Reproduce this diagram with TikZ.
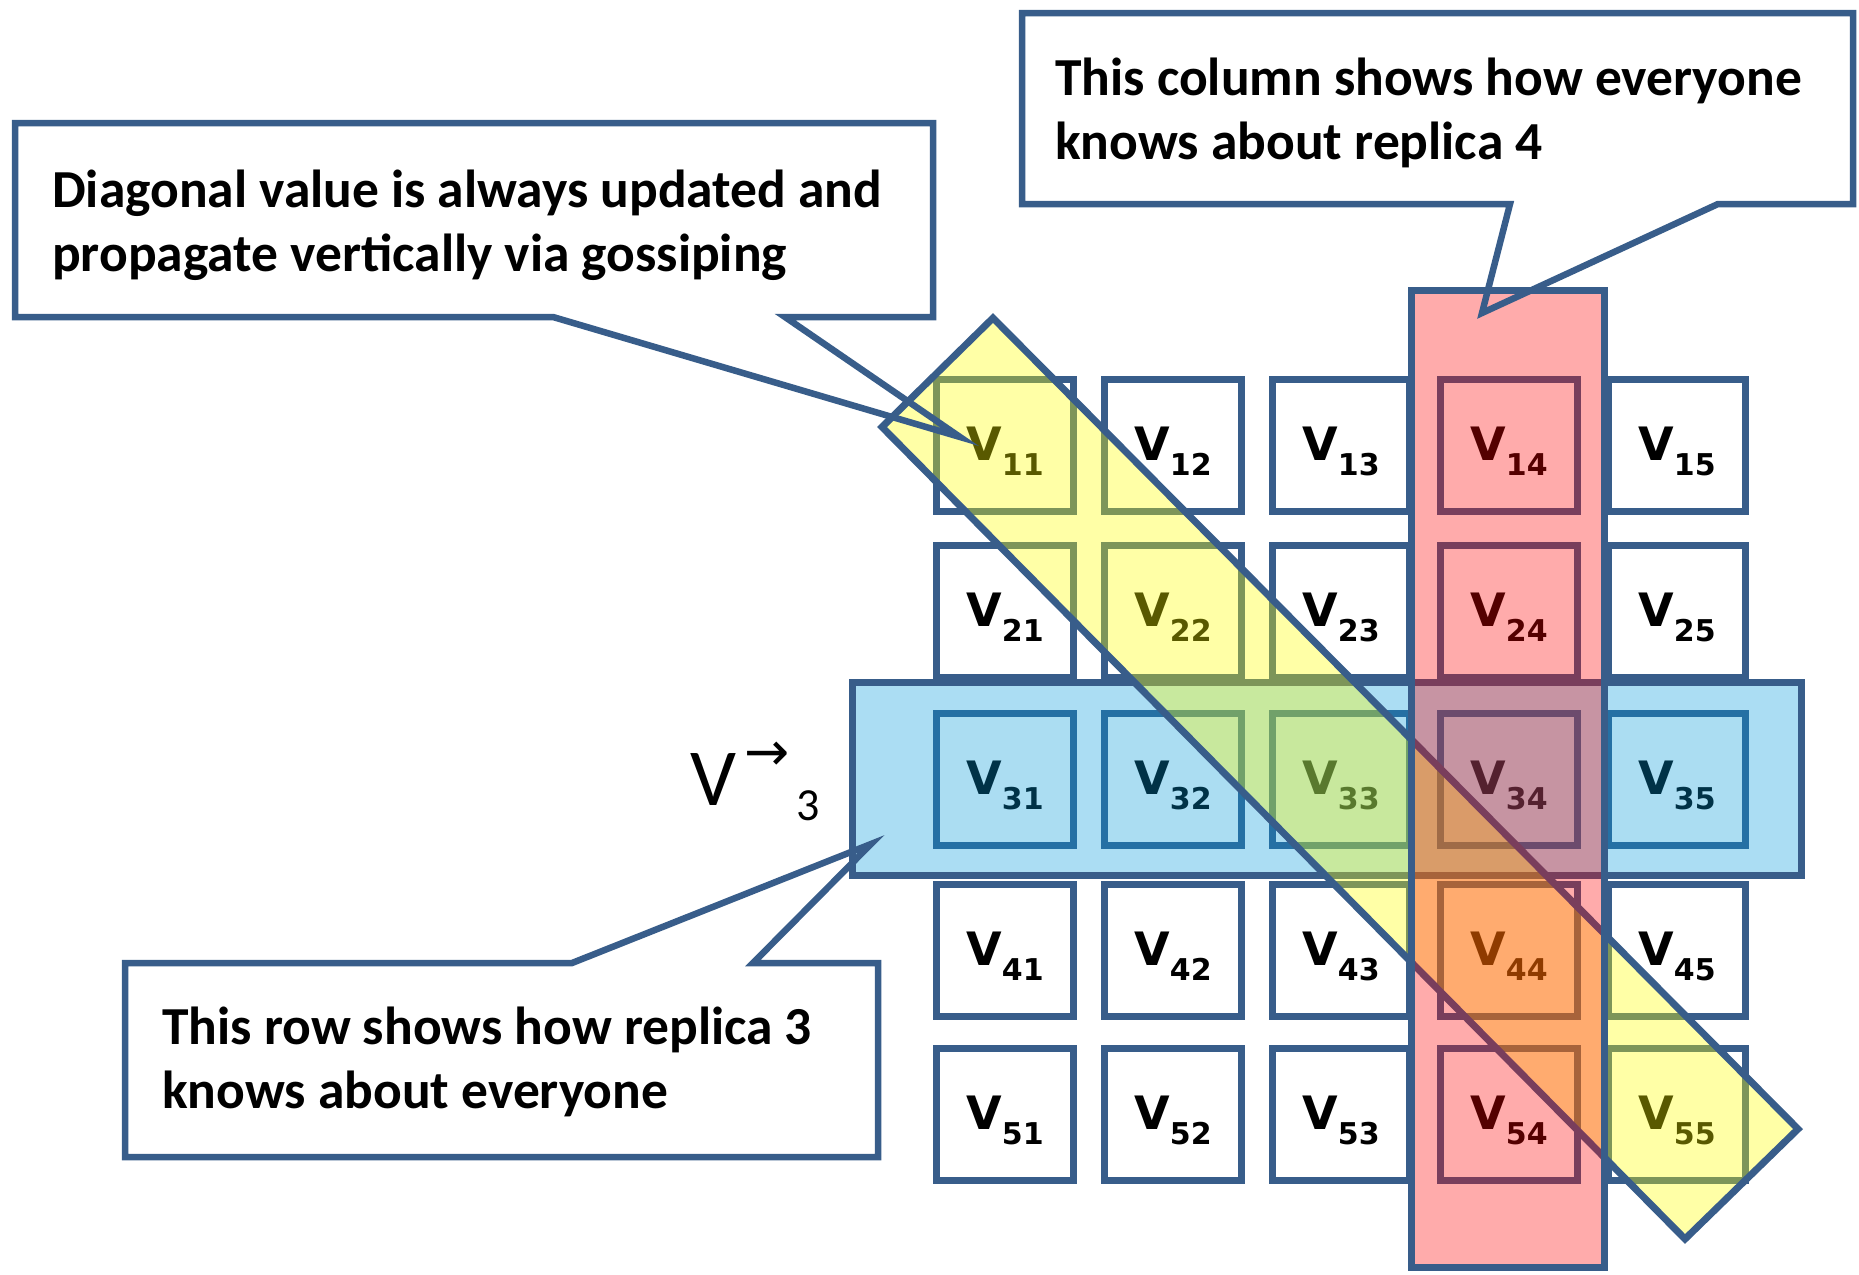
\documentclass[tikz,border=0pt]{standalone}
\usepackage{graphicx}
\usepackage{fontspec}
\setmainfont{Carlito}
\newfontfamily\cellfont{DejaVu Sans}
\definecolor{edge}{RGB}{56,93,138}
\definecolor{rowblue}{RGB}{0,153,218}
\definecolor{diagyellow}{RGB}{255,255,0}
\definecolor{colred}{RGB}{255,0,0}

\begin{document}
\begin{tikzpicture}[x=1pt,y=-1pt,
  cellbox/.style={draw=edge, line width=7pt, fill=white,
    minimum width=137pt, minimum height=132pt, inner sep=0pt,
    text height=36pt, text depth=6pt,
    font=\cellfont\bfseries\fontsize{46}{46}\selectfont},
  band/.style={draw=edge, line width=7pt, fill opacity=0.33, draw opacity=1},
  balloon/.style={draw=edge, line width=6.5pt, line join=miter},
  balloontext/.style={anchor=base west, inner sep=0pt, align=left,
    font=\bfseries\fontsize{53.5}{64}\selectfont}
]
\useasboundingbox (0,0) rectangle (1859,1274);

% callout bodies (white), outlines are stroked last
\path[fill=white, save path=\tlpath]
  (15,123) -- (933,123) -- (933,317) -- (785,317) -- (960,437)
  -- (553,317) -- (15,317) -- cycle;
\path[fill=white, save path=\trpath]
  (1022,13) -- (1853,13) -- (1853,204) -- (1718,204) -- (1482,313)
  -- (1510,204) -- (1022,204) -- cycle;
\path[fill=white, save path=\blpath]
  (125,963) -- (572,963) -- (871,844) -- (753,963) -- (878,963)
  -- (878,1157) -- (125,1157) -- cycle;

% the 5x5 matrix of version entries
\foreach \r/\y in {1/445,2/611,3/779,4/950,5/1114}{
  \foreach \c/\x in {1/1005,2/1173,3/1341,4/1509,5/1677}{
    \node[cellbox] (v\r\c) at (\x,\y)
      {V\raisebox{-15pt}{\fontsize{30}{30}\selectfont\r\c}};
  }
}

% highlighted row, diagonal and column
\draw[band, fill=rowblue] (852.5,682.5) rectangle (1801.5,875.5);
\draw[band, fill=diagyellow, fill opacity=0.35]
  (993,318) -- (1798,1129) -- (1685,1239) -- (882,427) -- cycle;
\draw[band, fill=colred] (1411.5,290.5) rectangle (1604.5,1267.5);

% callout outlines
\draw[balloon, use path=\tlpath];
\draw[balloon, use path=\trpath];
\draw[balloon, use path=\blpath];

% callout texts (anchored at the baseline of their last line)
\node[balloontext] (tltext) at (52,271)
  {Diagonal value is always updated and\\propagate vertically via gossiping};
\node[balloontext] (trtext) at (1055,159)
  {This column shows how everyone\\knows about replica 4};
\node[balloontext] (bltext) at (162,1108)
  {This row shows how replica 3\\knows about everyone};

% row vector label
\node[anchor=base west, inner sep=0pt] (vthree) at (690,805)
  {\fontsize{81}{81}\selectfont V\hspace{8pt}%
   \raisebox{35pt}{\cellfont\fontsize{54}{54}\selectfont →}\hspace{7pt}%
   \fontsize{46}{46}\selectfont\raisebox{-15pt}{3}};
\end{tikzpicture}
\end{document}
